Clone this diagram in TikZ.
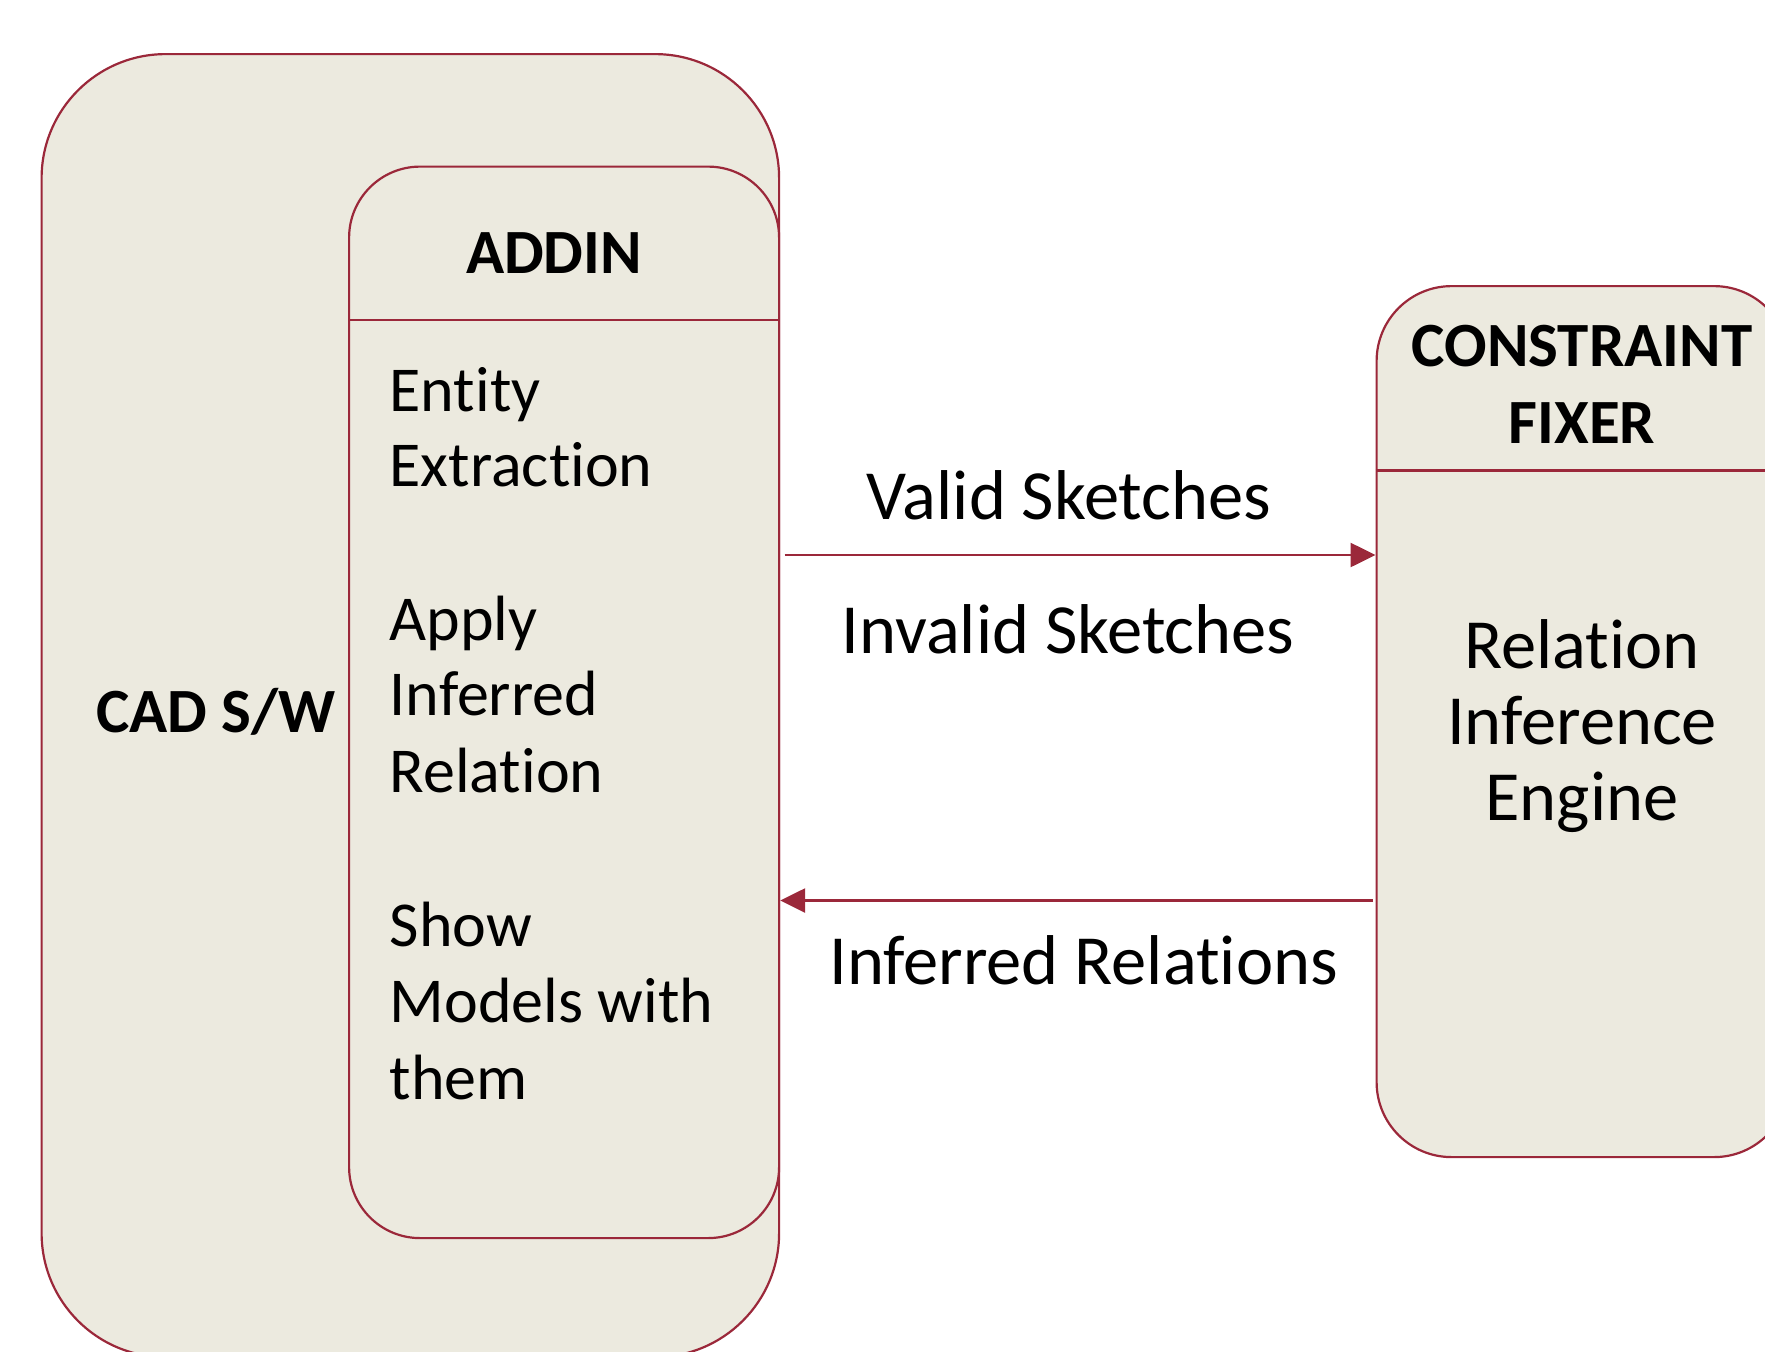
\documentclass[tikz,border=0pt]{standalone}
\usepackage{fontspec}
\setmainfont{Carlito}[Ligatures=NoCommon]
\usetikzlibrary{arrows.meta}
\definecolor{bord}{RGB}{155,40,58}
\definecolor{boxfill}{RGB}{236,234,223}
\begin{document}
\begin{tikzpicture}[x=1pt,y=-1pt,
  box/.style={draw=bord, fill=boxfill, line width=2.2pt, rounded corners=#1, rectangle, inner sep=0pt, anchor=north west},
  divider/.style={draw=bord, line width=2.2pt},
  head/.style={font=\bfseries\fontsize{63}{76}\selectfont, anchor=base, inner sep=0pt},
  item/.style={font=\fontsize{64}{76}\selectfont, anchor=base west, inner sep=0pt},
  label/.style={font=\fontsize{70.5}{76}\selectfont, anchor=base, inner sep=0pt},
  conn/.style={draw=bord, line width=2.6pt, -{Triangle[length=25pt,width=24pt]}}]
\useasboundingbox (0,0) rectangle (1765,1352);
\clip (0,0) rectangle (1765,1352);
% boxes
\node[box=124, minimum width=737.5pt, minimum height=1303pt] (cad) at (40.5,53) {};
\node[box=71, minimum width=430pt, minimum height=1071.5pt] (addin) at (348,165.5) {};
\node[box=75, minimum width=412.5pt, minimum height=871pt] (cf) at (1375.5,285) {};
\coordinate (d1) at (0,320);
\coordinate (d2) at (0,470.5);
\draw[divider] (addin.west |- d1) -- (addin.east |- d1);
\draw[divider] (cf.west |- d2) -- (cf.east |- d2);
% headings
\node[head] (addinT) at (554,273) {ADDIN};
\node[head] (cadT) at (216,732) {CAD S/W};
\node[head] (cfT1) at (1582,366) {CONSTRAINT};
\node[head] (cfT2) at (1582,443) {FIXER};
% addin items
\node[item] (i1) at (389.5,411) {Entity};
\node[item] (i2) at (389.5,486) {Extraction};
\node[item] (i3) at (389.5,640) {Apply};
\node[item] (i4) at (389.5,715) {Inferred};
\node[item] (i5) at (389.5,792) {Relation};
\node[item] (i6) at (389.5,946) {Show};
\node[item] (i7) at (389.5,1022) {Models with};
\node[item] (i8) at (389.5,1099) {them};
% engine
\node[label] (r1) at (1582,668) {Relation};
\node[label] (r2) at (1582,744) {Inference};
\node[label] (r3) at (1582,820) {Engine};
% connectors
\coordinate (a1s) at (784.6,555);
\coordinate (a2y) at (0,900.5);
\coordinate (a2s) at (1373,900.5);
\draw[conn] (a1s) -- (cf.west |- a1s);
\draw[conn] (a2s) -- (addin.east |- a2y);
\node[label] (valid) at (1069,519) {Valid Sketches};
\node[label] (invalid) at (1068,653) {Invalid Sketches};
\node[label] (inferred) at (1083.5,984) {Inferred Relations};
\end{tikzpicture}
\end{document}
